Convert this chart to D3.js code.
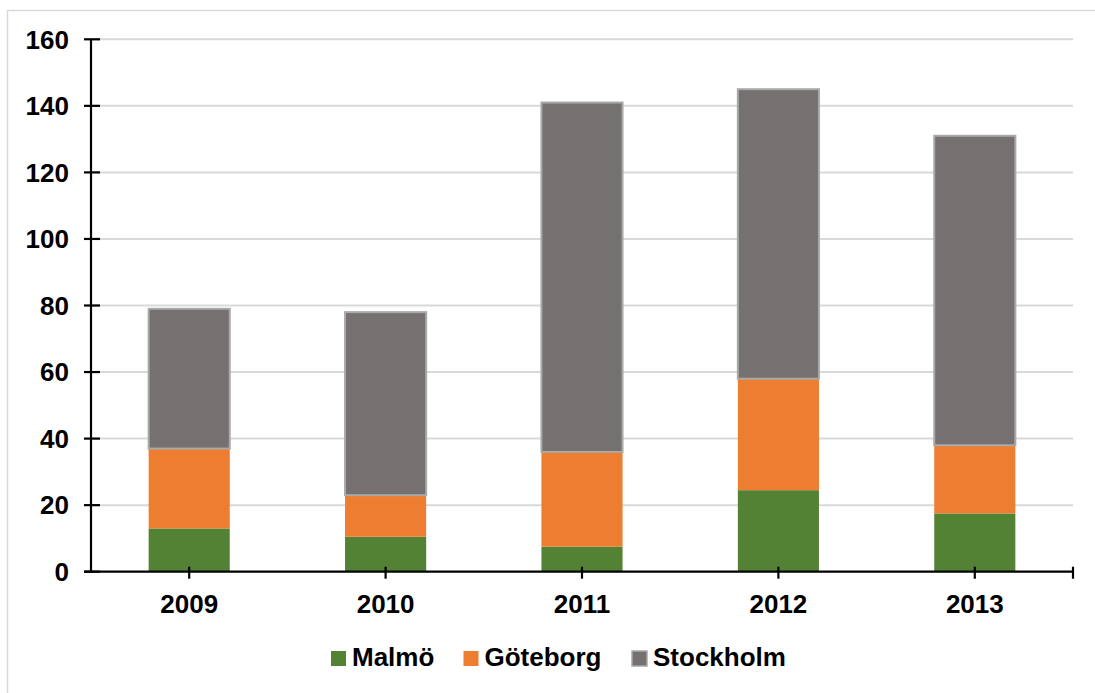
<!DOCTYPE html>
<html>
<head>
<meta charset="utf-8">
<script src="https://cdn.jsdelivr.net/npm/d3@7"></script>
<style>
  html, body { margin: 0; padding: 0; background: #ffffff; }
  svg { display: block; }
  text { font-family: "Liberation Sans", Arial, sans-serif; font-weight: bold; fill: #000; }
</style>
</head>
<body>
<svg id="chart" width="1095" height="693"></svg>
<script>
// Annual counts per city, stacked bottom to top: Malmö, Göteborg, Stockholm
const years = ["2009", "2010", "2011", "2012", "2013"];
const malmo = [13, 10.5, 7.5, 24.5, 17.5];
const goteborg = [24, 12.5, 28.5, 33.5, 20.5];
const stockholm = [42, 55, 105, 87, 93];
const seriesNames = ["Malmö", "Göteborg", "Stockholm"];
const seriesColors = ["#548235", "#ED7D31", "#767171"];
const yTicks = [0, 20, 40, 60, 80, 100, 120, 140, 160];

const svg = d3.select("#chart");
const W = 1095, H = 693;
const plot = { left: 91, right: 1073, top: 39.3, bottom: 571.7 };

// outer frame
svg.append("rect")
  .attr("x", 7.5).attr("y", 10.5)
  .attr("width", W + 20).attr("height", H + 20)
  .attr("fill", "#fff").attr("stroke", "#d9d9d9").attr("stroke-width", 1.5);

const x = d3.scaleBand()
  .domain(years)
  .range([plot.left, plot.right])
  .paddingInner(0.587)
  .paddingOuter(0.2935);

const y = d3.scaleLinear()
  .domain([0, 160])
  .range([plot.bottom, plot.top]);

// horizontal gridlines
svg.append("g").selectAll("line")
  .data(yTicks.filter(d => d > 0))
  .join("line")
  .attr("x1", plot.left).attr("x2", plot.right)
  .attr("y1", d => y(d)).attr("y2", d => y(d))
  .attr("stroke", "#d9d9d9").attr("stroke-width", 2);

// stacked bars
const rows = years.map((yr, i) => ({ year: yr, "Malmö": malmo[i], "Göteborg": goteborg[i], "Stockholm": stockholm[i] }));
const stack = d3.stack().keys(seriesNames)(rows);

svg.append("g").selectAll("g")
  .data(stack)
  .join("g")
  .attr("fill", (d, i) => seriesColors[i])
  .each(function (layer, li) {
    d3.select(this).selectAll("rect")
      .data(layer)
      .join("rect")
      .attr("x", d => x(d.data.year))
      .attr("width", x.bandwidth())
      .attr("y", d => y(d[1]))
      .attr("height", d => y(d[0]) - y(d[1]))
      .attr("stroke", li === 2 ? "#a9a9a9" : "none")
      .attr("stroke-width", li === 2 ? 2 : 0);
  });

// axes
const axis = svg.append("g").attr("stroke", "#000").attr("stroke-width", 2.2);
axis.append("line")
  .attr("x1", plot.left).attr("x2", plot.left)
  .attr("y1", plot.top).attr("y2", plot.bottom);
axis.append("line")
  .attr("x1", plot.left - 7).attr("x2", plot.right)
  .attr("y1", plot.bottom).attr("y2", plot.bottom);
axis.selectAll(".ytick")
  .data(yTicks)
  .join("line")
  .attr("class", "ytick")
  .attr("x1", plot.left - 7).attr("x2", plot.left + 9)
  .attr("y1", d => y(d)).attr("y2", d => y(d));
const xTickPos = years.map(d => x(d) + x.bandwidth() / 2).concat([plot.right]);
axis.selectAll(".xtick")
  .data(xTickPos)
  .join("line")
  .attr("class", "xtick")
  .attr("x1", d => d).attr("x2", d => d)
  .attr("y1", plot.bottom - 5).attr("y2", plot.bottom + 7);

// y tick labels
svg.append("g").selectAll("text")
  .data(yTicks)
  .join("text")
  .attr("x", 69)
  .attr("y", d => y(d) + 9.3)
  .attr("text-anchor", "end")
  .attr("font-size", 26)
  .text(d => d);

// x tick labels
svg.append("g").selectAll("text")
  .data(years)
  .join("text")
  .attr("x", d => x(d) + x.bandwidth() / 2)
  .attr("y", 612.5)
  .attr("text-anchor", "middle")
  .attr("font-size", 26)
  .text(d => d);

// legend
const legendX = [331, 463.5, 632];
const legend = svg.append("g").selectAll("g")
  .data(seriesNames)
  .join("g")
  .attr("transform", (d, i) => `translate(${legendX[i]},651)`);
legend.append("rect")
  .attr("width", 15).attr("height", 15)
  .attr("fill", (d, i) => seriesColors[i])
  .attr("stroke", (d, i) => i === 2 ? "#a9a9a9" : "none")
  .attr("stroke-width", 1.5);
legend.append("text")
  .attr("x", 21).attr("y", 15)
  .attr("font-size", 26)
  .text(d => d);
</script>
</body>
</html>
